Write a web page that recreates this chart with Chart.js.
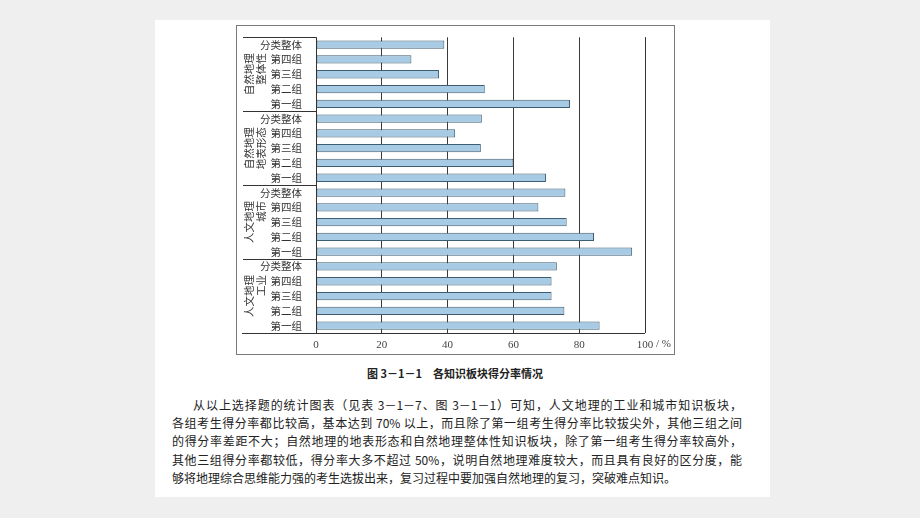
<!DOCTYPE html>
<html>
<head>
<meta charset="utf-8">
<script src="https://cdn.jsdelivr.net/npm/chart.js@4/dist/chart.umd.min.js"></script>
<style>
    html, body { margin: 0; padding: 0; }
    body { width: 920px; height: 518px; background: #efefef; position: relative; overflow: hidden; font-family: "Noto Sans CJK SC", sans-serif; }
    #page { position: absolute; left: 155px; top: 20px; width: 615px; height: 477px; background: #fff; }
    #box { position: absolute; left: 236px; top: 25px; width: 439px; height: 330px; }
    #caption { position: absolute; left: 300px; top: 365px; width: 310px; text-align: center; font-size: 11px; font-weight: bold; color: #222; }
    .linea { position: absolute; left: 172px; width: 570px; font-size: 12px; line-height: 18px; color: #222; text-align: justify; text-align-last: justify; white-space: nowrap; }
</style>
</head>
<body>
<div id="page"></div>
<div id="box"><canvas id="grafica" width="439" height="330"></canvas></div>
<div id="caption">图 3－1－1　各知识板块得分率情况</div>
<div class="linea" style="top:396px; left:193px; width:549px;">从以上选择题的统计图表（见表 3－1－7、图 3－1－1）可知，人文地理的工业和城市知识板块，</div>
<div class="linea" style="top:414px;">各组考生得分率都比较高，基本达到 70% 以上，而且除了第一组考生得分率比较拔尖外，其他三组之间</div>
<div class="linea" style="top:432px;">的得分率差距不大；自然地理的地表形态和自然地理整体性知识板块，除了第一组考生得分率较高外，</div>
<div class="linea" style="top:451px;">其他三组得分率都较低，得分率大多不超过 50%，说明自然地理难度较大，而且具有良好的区分度，能</div>
<div class="linea" style="top:469px; text-align-last:left;">够将地理综合思维能力强的考生选拔出来，复习过程中要加强自然地理的复习，突破难点知识。</div>
<script>
    // Datos
    const grupos = [['自然地理', '整体性'], ['自然地理', '地表形态'], ['人文地理', '城市'], ['人文地理', '工业']];
    const filas = ['分类整体', '第四组', '第三组', '第二组', '第一组'];
    const etiquetas = grupos.flatMap(() => filas);
    const valores = [
        39, 29, 37.4, 51.3, 77.2,
        50.4, 42.3, 50.1, 60, 69.9,
        75.8, 67.6, 76.2, 84.5, 96.1,
        73.2, 71.6, 71.6, 75.5, 86.2
    ];
    const ticksX = [0, 20, 40, 60, 80, 100];

    // Lineas del marco, separadores y textos de grupo
    const marco = {
        id: 'marco',
        afterDraw(chart) {
            const ctx = chart.ctx;
            const a = chart.chartArea;
            const y = chart.scales.y;
            const x = chart.scales.x;
            ctx.save();
            ctx.strokeStyle = '#7a7a7a';
            ctx.lineWidth = 1;
            ctx.strokeRect(0.5, 0.5, chart.width - 1, chart.height - 1);

            ctx.strokeStyle = '#333';
            ctx.beginPath();
            // eje izquierdo y borde derecho
            ctx.moveTo(Math.round(a.left) + 0.5, a.top);
            ctx.lineTo(Math.round(a.left) + 0.5, a.bottom);
            ctx.moveTo(Math.round(a.right) + 0.5, a.top);
            ctx.lineTo(Math.round(a.right) + 0.5, a.bottom);
            // linea inferior
            ctx.moveTo(6, Math.round(a.bottom) + 0.5);
            ctx.lineTo(a.right, Math.round(a.bottom) + 0.5);
            // linea superior de la zona de etiquetas
            ctx.moveTo(7, Math.round(a.top) + 0.5);
            ctx.lineTo(a.left, Math.round(a.top) + 0.5);
            for (let g = 1; g < grupos.length; g++) {
                const yy = Math.round((y.getPixelForValue(g * 5 - 1) + y.getPixelForValue(g * 5)) / 2) + 0.5;
                ctx.moveTo(7, yy);
                ctx.lineTo(a.left, yy);
            }
            ctx.stroke();

            // textos de grupo girados
            ctx.fillStyle = '#333';
            ctx.font = '10.5px "Noto Sans CJK SC"';
            ctx.textBaseline = 'middle';
            grupos.forEach((g, i) => {
                const cy = (y.getPixelForValue(i * 5) + y.getPixelForValue(i * 5 + 4)) / 2;
                const w1 = ctx.measureText(g[0]).width;
                ctx.save();
                ctx.translate(13, cy);
                ctx.rotate(-Math.PI / 2);
                ctx.textAlign = 'center';
                ctx.fillText(g[0], 0, 0);
                ctx.textAlign = 'right';
                ctx.fillText(g[1], w1 / 2, 12);
                ctx.restore();
            });

            // unidad junto a 100
            ctx.font = '11px "Liberation Serif"';
            ctx.fillStyle = '#444';
            ctx.textAlign = 'left';
            ctx.textBaseline = 'top';
            const w100 = ctx.measureText('100').width;
            ctx.fillText(' / %', x.getPixelForValue(100) + w100 / 2, a.bottom + 6);
            ctx.restore();
        }
    };

    const grafica = document.getElementById('grafica').getContext('2d');
    const chart1 = new Chart(grafica, {
        type: 'bar',
        data: {
            labels: etiquetas,
            datasets: [{
                data: valores,
                backgroundColor: '#a7cbe4',
                borderColor: '#3f5d72',
                borderWidth: 1,
                borderSkipped: false,
                barPercentage: 0.56,
                categoryPercentage: 1
            }]
        },
        options: {
            indexAxis: 'y',
            responsive: false,
            animation: false,
            layout: { padding: { top: 11, right: 30, left: 0, bottom: 0 } },
            plugins: {
                legend: { display: false },
                tooltip: { enabled: false }
            },
            scales: {
                x: {
                    min: 0,
                    max: 100,
                    z: 1,
                    afterBuildTicks: (s) => { s.ticks = ticksX.map(v => ({ value: v })); },
                    afterFit: (s) => { s.height = 22; },
                    grid: { color: '#3a3a3a', drawTicks: false, lineWidth: 1 },
                    border: { display: false },
                    ticks: {
                        padding: 6,
                        color: '#444',
                        font: { family: 'Liberation Serif', size: 11 }
                    }
                },
                y: {
                    afterFit: (s) => { s.width = 80; },
                    grid: { display: false },
                    border: { display: false },
                    ticks: {
                        padding: 6,
                        color: '#333',
                        autoSkip: false,
                        font: { family: 'Noto Sans CJK SC', size: 10.5 }
                    }
                }
            }
        },
        plugins: [marco]
    });
</script>
</body>
</html>
